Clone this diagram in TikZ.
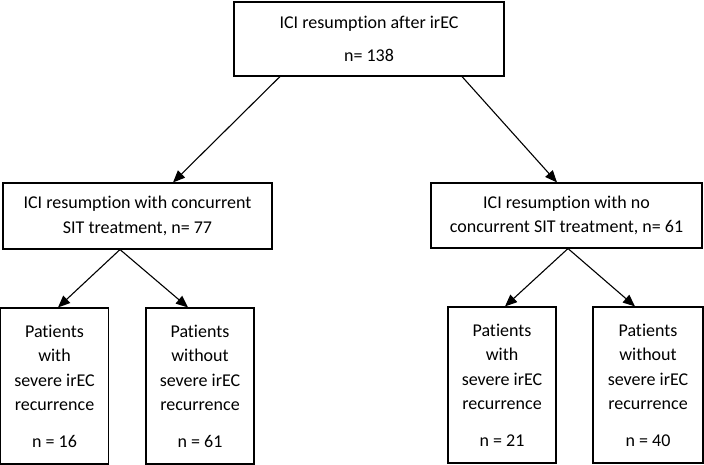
\documentclass[tikz,border=0pt]{standalone}
\usepackage{fontspec}
\setmainfont{Carlito}[Ligatures={NoCommon}]
\usepackage{tikz}
\usetikzlibrary{arrows.meta}
\usetikzlibrary{calc}
\usetikzlibrary{positioning}

\begin{document}
\begin{tikzpicture}[x=1pt,y=1pt,
		box/.style={draw,rectangle,line width=1.1pt,inner sep=0pt,align=center,
			font=\fontsize{18}{24.5}\selectfont},
		widebox/.style={box,minimum width=269pt,minimum height=66pt},
		tallbox/.style={box,minimum width=108pt,minimum height=156pt},
		arr/.style={line width=1.1pt,-{Triangle[length=12pt,width=10pt]}}]
		\useasboundingbox (0,0) rectangle (704,465);

		\node [box,minimum width=270pt,minimum height=74pt] (start) at (369,426)
			{ICI resumption after irEC\\[9pt] n= 138};

		\node [widebox] (concur) at (137.5,249) {ICI resumption with concurrent\\SIT treatment, n= 77};
		\node [widebox,minimum width=271pt,minimum height=65pt] (noconcur) at (566.5,249.5) {ICI resumption with no\\concurrent SIT treatment, n= 61};

		\node [tallbox] (cwith) at (54.5,79) {Patients\\with\\severe irEC\\recurrence\\[12pt] n = 16};
		\node [tallbox] (cwithout) at (200,79) {Patients\\without\\severe irEC\\recurrence\\[12pt] n = 61};
		\node [tallbox] (nwith) at (502,80) {Patients\\with\\severe irEC\\recurrence\\[12pt] n = 21};
		\node [tallbox,minimum width=110pt] (nwithout) at (648,80) {Patients\\without\\severe irEC\\recurrence\\[12pt] n = 40};

		\draw [arr] ([xshift=-89pt]start.south) -- ([xshift=35.5pt]concur.north);
		\draw [arr] ([xshift=93pt]start.south) -- ([xshift=-9.5pt]noconcur.north);

		\draw [arr] ([xshift=-17.5pt]concur.south) -- ([xshift=3.5pt]cwith.north);
		\draw [arr] ([xshift=-17.5pt]concur.south) -- ([xshift=-12pt]cwithout.north);

		\draw [arr] ([xshift=1.5pt]noconcur.south) -- ([xshift=3pt]nwith.north);
		\draw [arr] ([xshift=1.5pt]noconcur.south) -- ([xshift=-13pt]nwithout.north);
	\end{tikzpicture}
\end{document}
